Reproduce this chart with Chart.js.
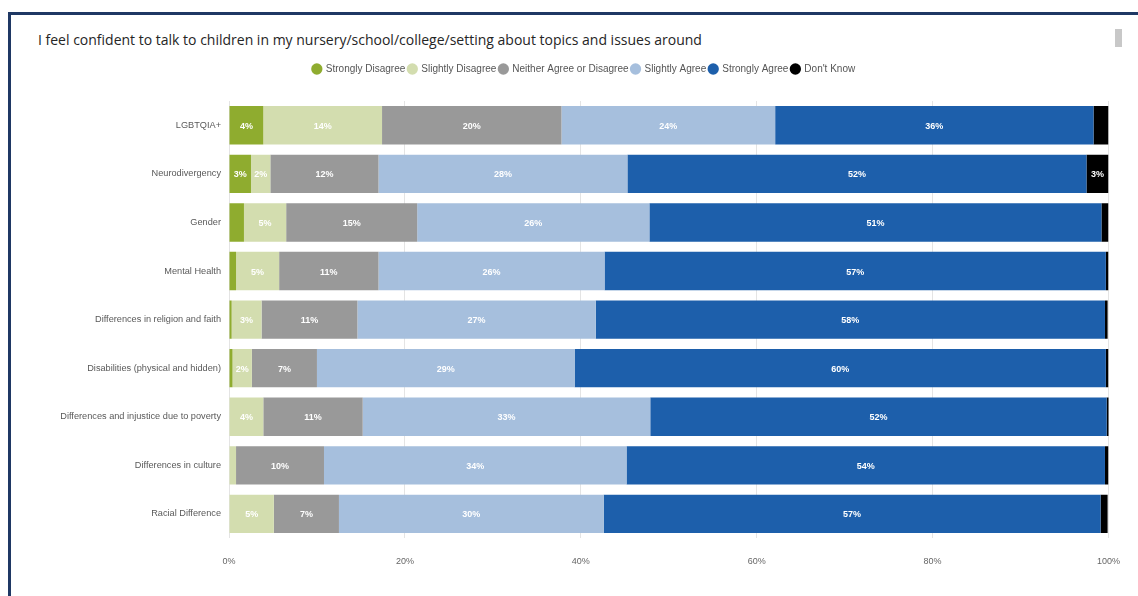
<!DOCTYPE html>
<html>
<head>
<meta charset="utf-8">
<script src="https://cdn.jsdelivr.net/npm/chart.js@4.4.0/dist/chart.umd.min.js"></script>
<style>
  html, body { margin: 0; padding: 0; background: #fff; }
  body { width: 1138px; height: 596px; position: relative; overflow: hidden; font-family: "Open Sans", Arial, sans-serif; }
  .frame { position: absolute; left: 8px; top: 12px; width: 1140px; height: 600px; border-top: 3px solid #1f3864; border-left: 3px solid #1f3864; }
  .title { position: absolute; left: 38px; top: 30px; font-size: 14px; color: #252525; }
  .scroll { position: absolute; left: 1115px; top: 29px; width: 7px; height: 18px; background: #c8c8c8; }
  .chart-wrap { position: absolute; left: 10px; top: 61px; width: 1128px; height: 530px; }
</style>
</head>
<body>
<div class="frame"></div>
<div class="title">I feel confident to talk to children in my nursery/school/college/setting about topics and issues around</div>
<div class="scroll"></div>
<div class="chart-wrap"><canvas id="likert-chart"></canvas></div>
<script>
const topics = [
    'LGBTQIA+',
    'Neurodivergency',
    'Gender',
    'Mental Health',
    'Differences in religion and faith',
    'Disabilities (physical and hidden)',
    'Differences and injustice due to poverty',
    'Differences in culture',
    'Racial Difference'
];
const responses = ['Strongly Disagree', 'Slightly Disagree', 'Neither Agree or Disagree', 'Slightly Agree', 'Strongly Agree', "Don't Know"];
const stronglyDisagree = [3.9, 2.5, 1.7, 0.8, 0.3, 0.4, 0, 0, 0];
const slightlyDisagree = [13.5, 2.2, 4.8, 4.9, 3.4, 2.2, 3.9, 0.8, 5.1];
const neither = [20.4, 12.3, 14.9, 11.3, 10.9, 7.4, 11.3, 10.0, 7.4];
const slightlyAgree = [24.3, 28.3, 26.4, 25.7, 27.1, 29.3, 32.7, 34.4, 30.1];
const stronglyAgree = [36.2, 52.2, 51.4, 57.0, 57.9, 60.4, 51.9, 54.4, 56.5];
const dontKnow = [1.7, 2.5, 0.8, 0.3, 0.3, 0.3, 0.3, 0.4, 0.8];
const xTicks = [0, 20, 40, 60, 80, 100];

const seriesValues = [stronglyDisagree, slightlyDisagree, neither, slightlyAgree, stronglyAgree, dontKnow];
const seriesColors = ['#8fac2f', '#d3ddaf', '#999999', '#a6bfdd', '#1d5fab', '#000000'];

// writes the rounded percentage in the middle of each wide enough segment
const segmentLabels = {
    id: 'segmentLabels',
    afterDatasetsDraw(chart) {
        const ctx = chart.ctx;
        ctx.save();
        ctx.font = 'bold 9px "Liberation Sans", Arial, sans-serif';
        ctx.fillStyle = '#ffffff';
        ctx.textAlign = 'center';
        ctx.textBaseline = 'middle';
        chart.data.datasets.forEach((ds, i) => {
            const meta = chart.getDatasetMeta(i);
            meta.data.forEach((bar, j) => {
                const v = ds.data[j];
                if (v < 2) return;
                const { x, base, y } = bar.getProps(['x', 'base', 'y'], true);
                ctx.fillText(`${Math.round(v)}%`, (x + base) / 2, y + 1);
            });
        });
        ctx.restore();
    }
};

// extra room under the legend, and nudge it right a little
const legendGap = {
    id: 'legendGap',
    beforeInit(chart) {
        const fit = chart.legend.fit;
        chart.legend.fit = function () {
            fit.bind(chart.legend)();
            this.height += 17;
        };
    },
    afterLayout(chart) {
        chart.legend.left += 13;
        chart.legend.right += 13;
    }
};

const ctx = document.getElementById('likert-chart').getContext('2d');
new Chart(ctx, {
    type: 'bar',
    data: {
        labels: topics,
        datasets: responses.map((name, i) => ({
            label: name,
            data: seriesValues[i],
            backgroundColor: seriesColors[i],
            borderWidth: 0,
            barPercentage: 0.79,
            categoryPercentage: 1
        }))
    },
    options: {
        indexAxis: 'y',
        responsive: true,
        maintainAspectRatio: false,
        animation: false,
        layout: { padding: { right: 6, bottom: 6 } },
        plugins: {
            legend: {
                position: 'top',
                labels: {
                    usePointStyle: true,
                    pointStyle: 'circle',
                    boxWidth: 8,
                    boxHeight: 8,
                    padding: 3,
                    color: '#555',
                    font: { size: 10, family: '"Liberation Sans", Arial, sans-serif' }
                }
            },
            tooltip: { enabled: false }
        },
        scales: {
            x: {
                stacked: true,
                min: 0,
                max: 100,
                afterBuildTicks: scale => { scale.ticks = xTicks.map(v => ({ value: v })); },
                ticks: {
                    callback: v => `${v}%`,
                    color: '#666',
                    padding: 18,
                    font: { size: 9, family: '"Liberation Sans", Arial, sans-serif' }
                },
                grid: { color: '#e4e4e4', drawTicks: false },
                border: { display: false }
            },
            y: {
                stacked: true,
                afterFit: scale => { scale.width = 219; },
                ticks: {
                    color: '#595959',
                    padding: 0,
                    font: { size: 9.2, family: '"Liberation Sans", Arial, sans-serif' }
                },
                grid: { display: false },
                border: { display: false }
            }
        }
    },
    plugins: [segmentLabels, legendGap]
});
</script>
</body>
</html>
